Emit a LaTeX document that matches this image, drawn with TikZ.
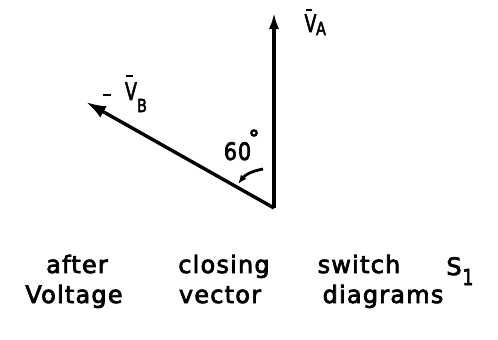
\documentclass[tikz,border=0pt]{standalone}
\usepackage{fontspec}
\newfontfamily\draft[LetterSpace=5,FakeBold=3]{DejaVu Sans}
\usetikzlibrary{arrows.meta}
\tikzset{
  vec/.style={line width=3.4pt,-{Latex[length=17pt,width=10pt]}},
  word/.style={font=\draft\fontsize{24}{26}\selectfont,inner sep=0pt,anchor=base},
  lbl/.style={font=\draft\fontsize{24}{26}\selectfont,inner sep=0pt,anchor=base,xscale=0.72},
  sub/.style={font=\draft\fontsize{18}{20}\selectfont,inner sep=0pt,anchor=base,xscale=0.8},
  bar/.style={line width=2.8pt},
}
\begin{document}
\begin{tikzpicture}[x=1pt,y=-1pt]
\useasboundingbox (0,0) rectangle (498,340);
\coordinate (O) at (274,208);
\coordinate (A) at (274,12);
\coordinate (B) at (86,102);
\draw[vec] (O) -- (A);
\draw[vec,-{Latex[length=20pt,width=13pt]}] (O) -- (B);
% labels
\node[lbl] (va) at (310.5,32) {V};
\draw[bar] (306,10) -- (312,10);
\node[sub] (vasub) at (321,35) {A};
\node[lbl] (vb) at (131,100) {V};
\draw[bar] (126,76) -- (133,76);
\node[sub] (vbsub) at (142,112) {B};
\draw[bar] (103,95) -- (111,95);
\node[lbl,xscale=1.2] (ang) at (237.5,160) {60};
\draw[line width=2.2pt] (254,133) circle (2.7);
\draw[line width=2.8pt,-{Latex[length=9pt,width=7pt]}] (263,169) .. controls (252,171) and (245,175) .. (238,184);
% text
\node[word] (w1) at (77,273) {after};
\node[word] (w2) at (224,273) {closing};
\node[word] (w3) at (359,273) {switch};
\node[word] (w4) at (454,275) {S};
\node[word,font=\draft\fontsize{22}{24}\selectfont,xscale=0.8] (w4s) at (468,285) {1};
\node[word] (w5) at (74,303) {Voltage};
\node[word] (w6) at (220,303) {vector};
\node[word] (w7) at (383,303) {diagrams};
\end{tikzpicture}
\end{document}
